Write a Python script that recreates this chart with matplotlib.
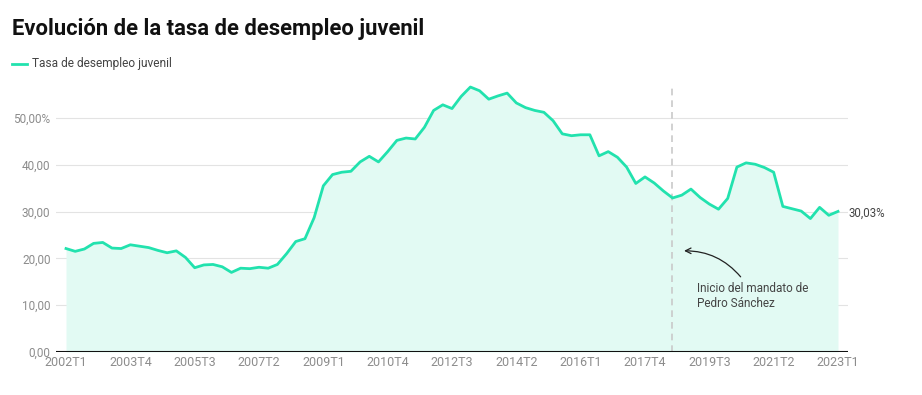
import matplotlib
matplotlib.use("Agg")
import matplotlib.pyplot as plt
from matplotlib.lines import Line2D
from matplotlib.ticker import FixedLocator, FuncFormatter

plt.rcParams["font.family"] = ["Roboto", "DejaVu Sans"]

TITLE = "Evolución de la tasa de desempleo juvenil"
SERIES_NAME = "Tasa de desempleo juvenil"

quarters = [f"{year}T{q}" for year in range(2002, 2024) for q in range(1, 5)][:85]

youth_unemployment = [
    22.1, 21.5, 22.0, 23.2, 23.4, 22.2, 22.1, 22.9, 22.6, 22.3,
    21.7, 21.2, 21.6, 20.2, 18.0, 18.6, 18.7, 18.2, 17.0, 17.9,
    17.8, 18.1, 17.9, 18.7, 21.0, 23.6, 24.2, 28.7, 35.5, 37.9,
    38.4, 38.6, 40.6, 41.8, 40.6, 42.8, 45.2, 45.7, 45.5, 48.0,
    51.6, 52.8, 52.0, 54.6, 56.6, 55.8, 54.0, 54.7, 55.3, 53.2,
    52.2, 51.6, 51.2, 49.4, 46.6, 46.2, 46.4, 46.4, 41.9, 42.8,
    41.6, 39.5, 36.0, 37.4, 36.1, 34.4, 32.9, 33.5, 34.8, 33.0,
    31.6, 30.5, 32.8, 39.5, 40.4, 40.1, 39.4, 38.4, 31.1, 30.6,
    30.1, 28.5, 30.9, 29.2, 30.03,
]

tick_labels = ["2002T1", "2003T4", "2005T3", "2007T2", "2009T1", "2010T4", "2012T3",
               "2014T2", "2016T1", "2017T4", "2019T3", "2021T2", "2023T1"]
y_ticks = [0, 10, 20, 30, 40, 50]

mandate_start = "2018T3"
annotation_text = "Inicio del mandato de\nPedro Sánchez"

LINE = "#22e2ae"
FILL = "#e2faf3"
GRID = "#e3e3e3"
TICK = "#8c8c8c"

W, H = 922, 395
fig = plt.figure(figsize=(W / 100, H / 100), dpi=100)
ax = fig.add_axes([56 / W, 1 - 352 / H, (848 - 56) / W, (352 - 80) / H])

x = list(range(len(quarters)))
ax.fill_between(x, youth_unemployment, 0, color=FILL, linewidth=0, zorder=1)
ax.plot(x, youth_unemployment, color=LINE, linewidth=2.0, zorder=3, solid_joinstyle="round")

ax.set_xlim(-1.09, len(quarters) - 1 + 1.09)
ax.set_ylim(0, 58.1)

for yv in y_ticks[1:]:
    ax.axhline(yv, color=GRID, linewidth=0.8, zorder=0.5)
ax.axhline(0, color="#111111", linewidth=1.5, zorder=4)

for side in ax.spines.values():
    side.set_visible(False)

ax.yaxis.set_major_locator(FixedLocator(y_ticks))
ax.yaxis.set_major_formatter(FuncFormatter(
    lambda v, _: f"{v:.2f}".replace(".", ",") + ("%" if v == y_ticks[-1] else "")))
ax.tick_params(axis="y", length=0, pad=4, labelsize=8.5, labelcolor=TICK)

tick_pos = [quarters.index(t) for t in tick_labels]
ax.set_xticks(tick_pos)
ax.set_xticklabels(tick_labels)
ax.tick_params(axis="x", length=0, pad=3, labelsize=9, labelcolor=TICK)

# vertical marker for the change of government
mx = quarters.index(mandate_start)
ax.vlines(mx - 0.05, 0, 57.0, colors="#c9c9c9", linestyles=(0, (4, 3)), linewidth=1.2, zorder=2)
ax.annotate("", xy=(mx + 0.95, 21.6), xytext=(mx + 7.6, 15.6),
            arrowprops=dict(arrowstyle="->", color="#222222", linewidth=0.9,
                            connectionstyle="arc3,rad=0.25"), zorder=5)
ax.text(mx + 2.7, 15.0, annotation_text, fontsize=8.5, color="#444444",
        va="top", ha="left", linespacing=1.25, zorder=5)

last = youth_unemployment[-1]
ax.text(len(quarters) - 1 + 1.1, last - 0.5, f"{last:.2f}%".replace(".", ","),
        fontsize=8.3, color="#444444", va="center", ha="left", clip_on=False)

fig.text(12 / W, 1 - 29 / H, TITLE, fontsize=15.8, fontweight="bold", color="#111111",
         va="center", ha="left")
fig.add_artist(Line2D([12 / W, 27 / W], [1 - 64 / H] * 2, color=LINE, linewidth=2.0))
fig.text(32 / W, 1 - 64 / H, SERIES_NAME, fontsize=8.6, color="#444444", va="center", ha="left")

fig.savefig("out.png", dpi=100, facecolor="white")
